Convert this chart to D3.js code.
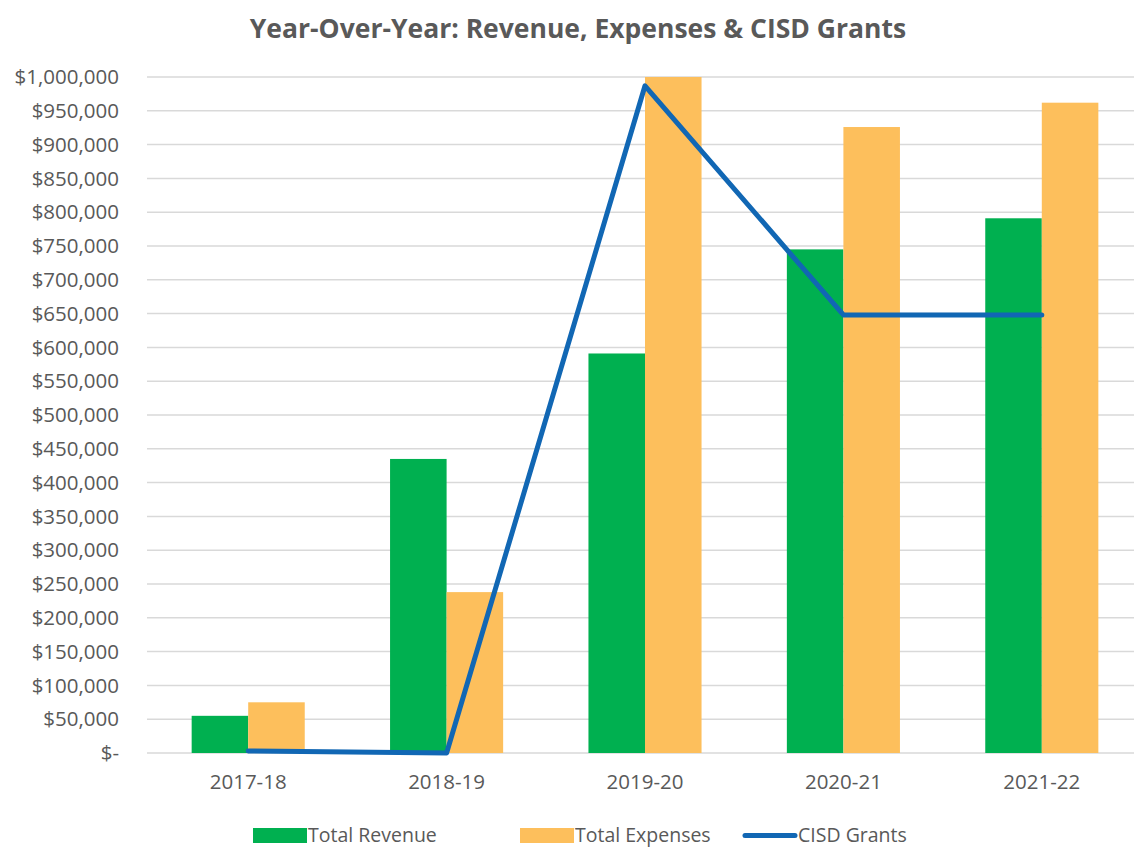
<!DOCTYPE html>
<html>
<head>
<meta charset="utf-8">
<script src="https://cdn.jsdelivr.net/npm/d3@7/dist/d3.min.js"></script>
<style>
  html, body { margin: 0; padding: 0; background: #fff; }
  svg { display: block; }
  text { font-family: "Open Sans", "Noto Sans", sans-serif; }
</style>
</head>
<body>
<svg id="chart" width="1134" height="849"></svg>
<script>
const categories = ["2017-18", "2018-19", "2019-20", "2020-21", "2021-22"];
const totalRevenue = [55000, 435000, 591000, 745000, 791000];
const totalExpenses = [75000, 238000, 1000000, 926000, 962000];
const cisdGrants = [3000, 0, 987000, 648000, 648000];
const yTicks = [0, 50000, 100000, 150000, 200000, 250000, 300000, 350000, 400000, 450000,
  500000, 550000, 600000, 650000, 700000, 750000, 800000, 850000, 900000, 950000, 1000000];
const seriesNames = ["Total Revenue", "Total Expenses", "CISD Grants"];

(function () {
const colors = { rev: "#00B050", exp: "#FDBF5C", line: "#1167B4", grid: "#D9D9D9", text: "#595959" };

const svg = d3.select("#chart");
const pLeft = 149, pRight = 1141, pTop = 77, pBottom = 753;
const fs = 20.5;

const x = d3.scaleBand().domain(categories).range([pLeft, pRight]).paddingInner(0).paddingOuter(0);
const y = d3.scaleLinear().domain([0, 1000000]).range([pBottom, pTop]);
const barW = x.bandwidth() * 0.285;

// Gridlines
svg.append("g").selectAll("line").data(yTicks).join("line")
  .attr("x1", pLeft - 2).attr("x2", pRight)
  .attr("y1", d => y(d)).attr("y2", d => y(d))
  .attr("stroke", colors.grid).attr("stroke-width", 1.5);

// Y labels
const fmt = d3.format(",");
svg.append("g").selectAll("text").data(yTicks).join("text")
  .attr("x", 119).attr("y", d => y(d)).attr("dy", "0.35em")
  .attr("text-anchor", "end").attr("fill", colors.text)
  .attr("font-size", fs)
  .text(d => d === 0 ? "$-" : "$" + fmt(d));

// Bars
const cx = c => x(c) + x.bandwidth() / 2;
svg.append("g").selectAll("rect").data(categories).join("rect")
  .attr("x", (c) => cx(c) - barW)
  .attr("y", (c, i) => y(totalRevenue[i]))
  .attr("width", barW)
  .attr("height", (c, i) => y(0) - y(totalRevenue[i]))
  .attr("fill", colors.rev);
svg.append("g").selectAll("rect").data(categories).join("rect")
  .attr("x", (c) => cx(c))
  .attr("y", (c, i) => y(totalExpenses[i]))
  .attr("width", barW)
  .attr("height", (c, i) => y(0) - y(totalExpenses[i]))
  .attr("fill", colors.exp);

// Line
const line = d3.line().x((d, i) => cx(categories[i])).y(d => y(d));
svg.append("path").datum(cisdGrants)
  .attr("d", line).attr("fill", "none")
  .attr("stroke", colors.line).attr("stroke-width", 5)
  .attr("stroke-linejoin", "round").attr("stroke-linecap", "round");

// X labels
svg.append("g").selectAll("text").data(categories).join("text")
  .attr("x", c => cx(c)).attr("y", 789)
  .attr("text-anchor", "middle").attr("fill", colors.text)
  .attr("font-size", fs)
  .text(c => c);

// Title
svg.append("text").attr("x", 578).attr("y", 38)
  .attr("text-anchor", "middle").attr("fill", colors.text)
  .attr("font-size", 26.5).attr("font-weight", "bold")
  .text("Year-Over-Year: Revenue, Expenses & CISD Grants");

// Legend
const lfs = 19.5, ly = 835.5;
const lg = svg.append("g").attr("font-size", lfs).attr("fill", colors.text);
const legendItems = [
  { name: seriesNames[0], type: "rect", color: colors.rev, x: 253 },
  { name: seriesNames[1], type: "rect", color: colors.exp, x: 520 },
  { name: seriesNames[2], type: "line", color: colors.line, x: 743 }
];
legendItems.forEach(it => {
  if (it.type === "rect") {
    lg.append("rect").attr("x", it.x).attr("y", ly - 7.5).attr("width", 54).attr("height", 15).attr("fill", it.color);
  } else {
    lg.append("line").attr("x1", it.x + 2).attr("x2", it.x + 52).attr("y1", ly).attr("y2", ly)
      .attr("stroke", it.color).attr("stroke-width", 5).attr("stroke-linecap", "round");
  }
  lg.append("text").attr("x", it.x + 55).attr("y", ly).attr("dy", "0.35em").attr("fill", colors.text).text(it.name);
});
})();
</script>
</body>
</html>
